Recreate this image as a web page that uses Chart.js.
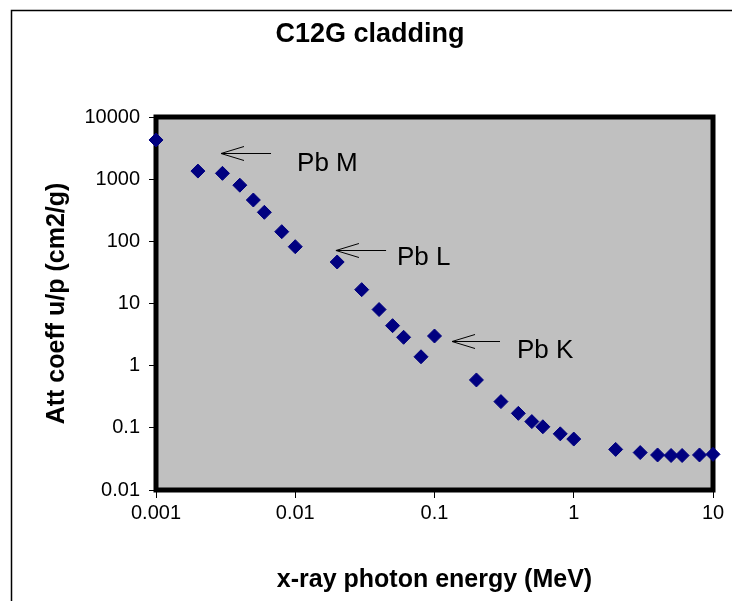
<!DOCTYPE html>
<html><head><meta charset="utf-8">
<script src="https://cdn.jsdelivr.net/npm/chart.js@4/dist/chart.umd.min.js"></script>
<style>html,body{margin:0;padding:0;background:#fff}canvas{display:block}</style>
</head><body>
<canvas id="c" width="732" height="601" style="width:732px;height:601px"></canvas>
<script>
// ---- data ----
const energies = [0.001,0.002,0.003,0.004,0.005,0.006,0.008,0.01,0.02,0.03,0.04,0.05,0.06,0.08,0.1,0.2,0.3,0.4,0.5,0.6,0.8,1,2,3,4,5,6,8,10];
const attCoeff = [4270,1350,1240,800,462,293,143,82,46.5,16.7,8.0,4.4,2.86,1.39,3.0,0.589,0.264,0.171,0.126,0.104,0.080,0.066,0.045,0.040,0.0366,0.0359,0.0359,0.0366,0.0375];
const xTickValues = [0.001,0.01,0.1,1,10];
const xTickLabels = ['0.001','0.01','0.1','1','10'];
const yTickValues = [0.01,0.1,1,10,100,1000,10000];
const yTickLabels = ['0.01','0.1','1','10','100','1000','10000'];
const chartTitle = 'C12G cladding';
const xTitle = 'x-ray photon energy (MeV)';
const yTitle = 'Att coeff u/p (cm2/g)';
// annotation anchors in data units (energy, coefficient)
const edgeLabels = ['Pb M','Pb L','Pb K'];
const arrowTipE = [0.00293,0.0196,0.1336];
const arrowTipV = [2636,72.6,2.49];
const arrowTailE = [0.0067,0.0449,0.2954];
const labelE = [0.0103,0.0538,0.391];
const labelV = [1353,41.6,1.33];

const FONT = '"Liberation Sans", Arial, Helvetica, sans-serif';
Chart.defaults.font.family = FONT;
Chart.defaults.color = '#000';

const decor = {
  id: 'decor',
  beforeDraw(chart) {
    const ctx = chart.ctx, a = chart.chartArea;
    ctx.save();
    ctx.fillStyle = '#fff';
    ctx.fillRect(0, 0, chart.width, chart.height);
    // outer chart frame
    ctx.strokeStyle = '#000';
    ctx.lineWidth = 1.5;
    ctx.strokeRect(11.5, 10.5, 900, 900);
    // plot area fill
    ctx.fillStyle = '#C0C0C0';
    ctx.fillRect(a.left, a.top, a.right - a.left, a.bottom - a.top);
    // title
    ctx.fillStyle = '#000';
    ctx.font = 'bold 27px ' + FONT;
    ctx.textAlign = 'center';
    ctx.textBaseline = 'middle';
    ctx.fillText(chartTitle, 370, 35);
    ctx.restore();
  },
  beforeDatasetsDraw(chart) {
    const ctx = chart.ctx, a = chart.chartArea;
    ctx.save();
    ctx.strokeStyle = '#000';
    ctx.lineWidth = 5;
    ctx.strokeRect(a.left, a.top, a.right - a.left, a.bottom - a.top);
    ctx.restore();
  },
  afterDatasetsDraw(chart) {
    const ctx = chart.ctx, xs = chart.scales.x, ys = chart.scales.y;
    ctx.save();
    ctx.strokeStyle = '#000';
    ctx.fillStyle = '#000';
    ctx.lineWidth = 1;
    ctx.font = '26px ' + FONT;
    ctx.textAlign = 'left';
    ctx.textBaseline = 'alphabetic';
    for (let i = 0; i < edgeLabels.length; i++) {
      const tx = xs.getPixelForValue(arrowTipE[i]);
      const ty = Math.round(ys.getPixelForValue(arrowTipV[i])) + 0.5;
      const sx = xs.getPixelForValue(arrowTailE[i]);
      ctx.beginPath();
      ctx.moveTo(sx, ty); ctx.lineTo(tx, ty);
      ctx.moveTo(tx + 23, ty - 7); ctx.lineTo(tx, ty); ctx.lineTo(tx + 23, ty + 7);
      ctx.stroke();
      ctx.fillText(edgeLabels[i], xs.getPixelForValue(labelE[i]), ys.getPixelForValue(labelV[i]));
    }
    ctx.restore();
  }
};

new Chart(document.getElementById('c'), {
  type: 'scatter',
  data: {
    datasets: [{
      data: energies.map((e, i) => ({x: e, y: attCoeff[i]})),
      pointStyle: 'rectRot',
      pointRadius: 7,
      pointHoverRadius: 7,
      backgroundColor: '#000080',
      borderColor: '#000080',
      borderWidth: 1,
      showLine: false,
      clip: false
    }]
  },
  options: {
    responsive: false,
    devicePixelRatio: 1,
    animation: false,
    events: [],
    layout: { padding: { top: 117, right: 19, bottom: 0, left: 0 } },
    plugins: { legend: { display: false }, title: { display: false }, tooltip: { enabled: false } },
    scales: {
      x: {
        type: 'logarithmic',
        position: 'bottom',
        min: 0.001, max: 10,
        afterBuildTicks: s => { s.ticks = xTickValues.map(v => ({value: v})); },
        afterFit: s => { s.height = 111; },
        ticks: {
          autoSkip: false, maxRotation: 0, padding: 3,
          font: { size: 20 }, color: '#000',
          callback: v => { const k = xTickValues.indexOf(v); return k >= 0 ? xTickLabels[k] : ''; }
        },
        grid: { display: true, drawOnChartArea: false, drawTicks: true, tickLength: 8, tickColor: '#000', lineWidth: 1 },
        border: { display: false },
        title: { display: true, text: xTitle, font: { size: 25, weight: 'bold' }, color: '#000', padding: { top: 0, bottom: 6 } }
      },
      y: {
        type: 'logarithmic',
        position: 'left',
        min: 0.01, max: 10000,
        afterBuildTicks: s => { s.ticks = yTickValues.map(v => ({value: v})); },
        afterFit: s => { s.width = 156; },
        ticks: {
          autoSkip: false, padding: 9,
          font: { size: 20 }, color: '#000',
          callback: v => { const k = yTickValues.indexOf(v); return k >= 0 ? yTickLabels[k] : ''; }
        },
        grid: { display: true, drawOnChartArea: false, drawTicks: true, tickLength: 7, tickColor: '#000', lineWidth: 1 },
        border: { display: false },
        title: { display: true, text: yTitle, font: { size: 25, weight: 'bold' }, color: '#000', padding: { top: 42, bottom: 0 } }
      }
    }
  },
  plugins: [decor]
});
</script>
</body></html>
